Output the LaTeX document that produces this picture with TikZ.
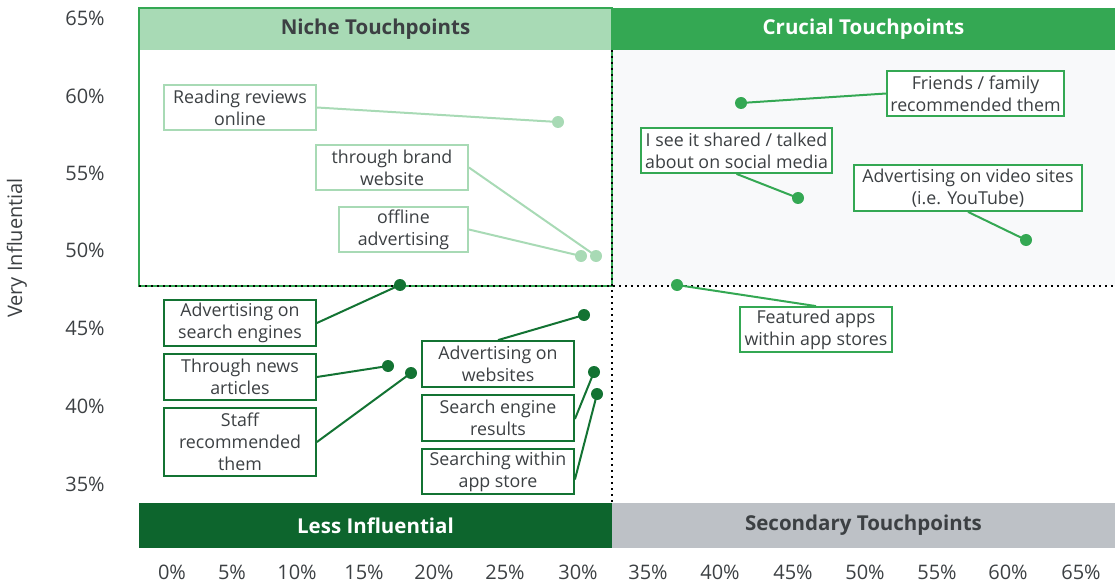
\documentclass[tikz,border=0pt]{standalone}
\usepackage{fontspec}
\setmainfont{Open Sans}
\definecolor{lg}{HTML}{A8DAB5}
\definecolor{mg}{HTML}{34A853}
\definecolor{dg}{HTML}{137333}
\definecolor{dk}{HTML}{0D652D}
\definecolor{tx}{HTML}{3C4043}
\definecolor{gy}{HTML}{BDC1C6}
\definecolor{bgg}{HTML}{F8F9FA}
\begin{document}
\begin{tikzpicture}[x=1pt,y=-1pt,
  lbl/.style={line width=1.8pt, fill=white, text=tx, align=center, inner sep=0pt,
    font=\fontsize{17.8}{22}\selectfont},
  dotn/.style={circle, draw=none, inner sep=0pt, minimum size=12pt},
  conn/.style={line width=2pt},
  hdr/.style={draw=none, inner sep=0pt, font=\bfseries\fontsize{20.5}{24}\selectfont},
  axl/.style={text=tx, inner sep=0pt, font=\fontsize{20}{24}\selectfont},
  dots/.style={line width=1.6pt, dash pattern=on 1.6pt off 4.4pt, black}]
\useasboundingbox (0,0) rectangle (1115,585);
% backgrounds
\node[fill=bgg, minimum width=502pt, minimum height=236pt, inner sep=0pt] (bgarea) at (864,168) {};
\node[hdr, fill=lg, text=tx, minimum width=473pt, minimum height=42pt] (niche) at (375.5,29) {Niche Touchpoints};
\node[hdr, fill=mg, text=white, minimum width=503pt, minimum height=42pt] (crucial) at (863.5,29) {Crucial Touchpoints};
\node[hdr, fill=dk, text=white, minimum width=473pt, minimum height=45pt] (less) at (375.5,525.5) {Less Influential};
\node[hdr, fill=gy, text=tx, minimum width=503pt, minimum height=45pt] (second) at (863.5,525.5) {Secondary Touchpoints};
% niche border
\draw[draw=mg, line width=1.8pt] (139,8) rectangle (612,286);
% dotted dividers
\coordinate (hl) at (139,286);
\coordinate (hr) at (1115,286);
\coordinate (vt) at (612,50);
\coordinate (vb) at (612,503);
\draw[dots] (hl) -- (hr);
\draw[dots] (vt) -- (vb);
% axis labels
\foreach \v/\y in {65/18,60/96,55/173,50/250,45/328,40/406,35/484}
  \node[axl] (y\v) at (85,\y) {\v\%};
\foreach \v/\x in {0/172,5/232,10/297,15/364,20/434,25/505,30/578,35/648,40/720,45/793,50/865,55/937,60/1008,65/1081}
  \node[axl] (x\v) at (\x,572) {\v\%};
\node[axl, rotate=90] (ytitle) at (17,248) {Very Influential};
% dots
\node[dotn, fill=lg] (drr) at (558,122) {};
\node[dotn, fill=lg] (dbw) at (596,256) {};
\node[dotn, fill=lg] (doa) at (581,256) {};
\node[dotn, fill=mg] (dff) at (741,103) {};
\node[dotn, fill=mg] (dss) at (798,198) {};
\node[dotn, fill=mg] (dvs) at (1026,240) {};
\node[dotn, fill=mg] (dfa) at (677,285) {};
\node[dotn, fill=dg] (dse) at (400,285) {};
\node[dotn, fill=dg] (dna) at (388,366) {};
\node[dotn, fill=dg] (dst) at (411,373) {};
\node[dotn, fill=dg] (daw) at (584,315) {};
\node[dotn, fill=dg] (dsr) at (594,372) {};
\node[dotn, fill=dg] (dsa) at (597,394) {};
% label boxes
\node[lbl, draw=lg, minimum width=152pt, minimum height=45pt] (rr) at (240,107.5) {Reading reviews\\online};
\node[lbl, draw=lg, minimum width=152pt, minimum height=45pt] (bw) at (392,167.5) {through brand\\website};
\node[lbl, draw=lg, minimum width=129pt, minimum height=45pt] (oa) at (403.5,229.5) {offline\\advertising};
\node[lbl, draw=mg, minimum width=177pt, minimum height=45pt] (ff) at (975.5,93.5) {Friends / family\\recommended them};
\node[lbl, draw=mg, minimum width=191pt, minimum height=45pt] (ss) at (736.5,150.5) {I see it shared / talked\\about on social media};
\node[lbl, draw=mg, minimum width=228pt, minimum height=46pt] (vs) at (968,188) {Advertising on video sites\\(i.e. YouTube)};
\node[lbl, draw=mg, minimum width=152pt, minimum height=45pt] (fa) at (816,329.5) {Featured apps\\within app stores};
\node[lbl, draw=dg, minimum width=152pt, minimum height=46pt] (se) at (240,323) {Advertising on\\search engines};
\node[lbl, draw=dg, minimum width=152pt, minimum height=46pt] (na) at (240,377) {Through news\\articles};
\node[lbl, draw=dg, minimum width=152pt, minimum height=68pt] (st) at (240,442) {Staff\\recommended\\them};
\node[lbl, draw=dg, minimum width=152pt, minimum height=46pt] (aw) at (498,364) {Advertising on\\websites};
\node[lbl, draw=dg, minimum width=152pt, minimum height=46pt] (sr) at (498,418) {Search engine\\results};
\node[lbl, draw=dg, minimum width=152pt, minimum height=45pt] (sa) at (498,471.5) {Searching within\\app store};
% connectors
\draw[conn, lg] (rr.east) -- (drr.center);
\draw[conn, lg] (bw.east) -- (dbw.center);
\draw[conn, lg] (oa.east) -- (doa.center);
\draw[conn, mg] (ff.west) -- (dff.center);
\draw[conn, mg] (ss.south) -- (dss.center);
\draw[conn, mg] (vs.south) -- (dvs.center);
\draw[conn, mg] (fa.north) -- (dfa.center);
\draw[conn, dg] (se.east) -- (dse.center);
\draw[conn, dg] (na.east) -- (dna.center);
\draw[conn, dg] (st.east) -- (dst.center);
\draw[conn, dg] (aw.north) -- (daw.center);
\draw[conn, dg] ([yshift=-1pt]sr.east) -- (dsr.center);
\draw[conn, dg] ([yshift=-8pt]sa.east) -- (dsa.center);
\end{tikzpicture}
\end{document}
